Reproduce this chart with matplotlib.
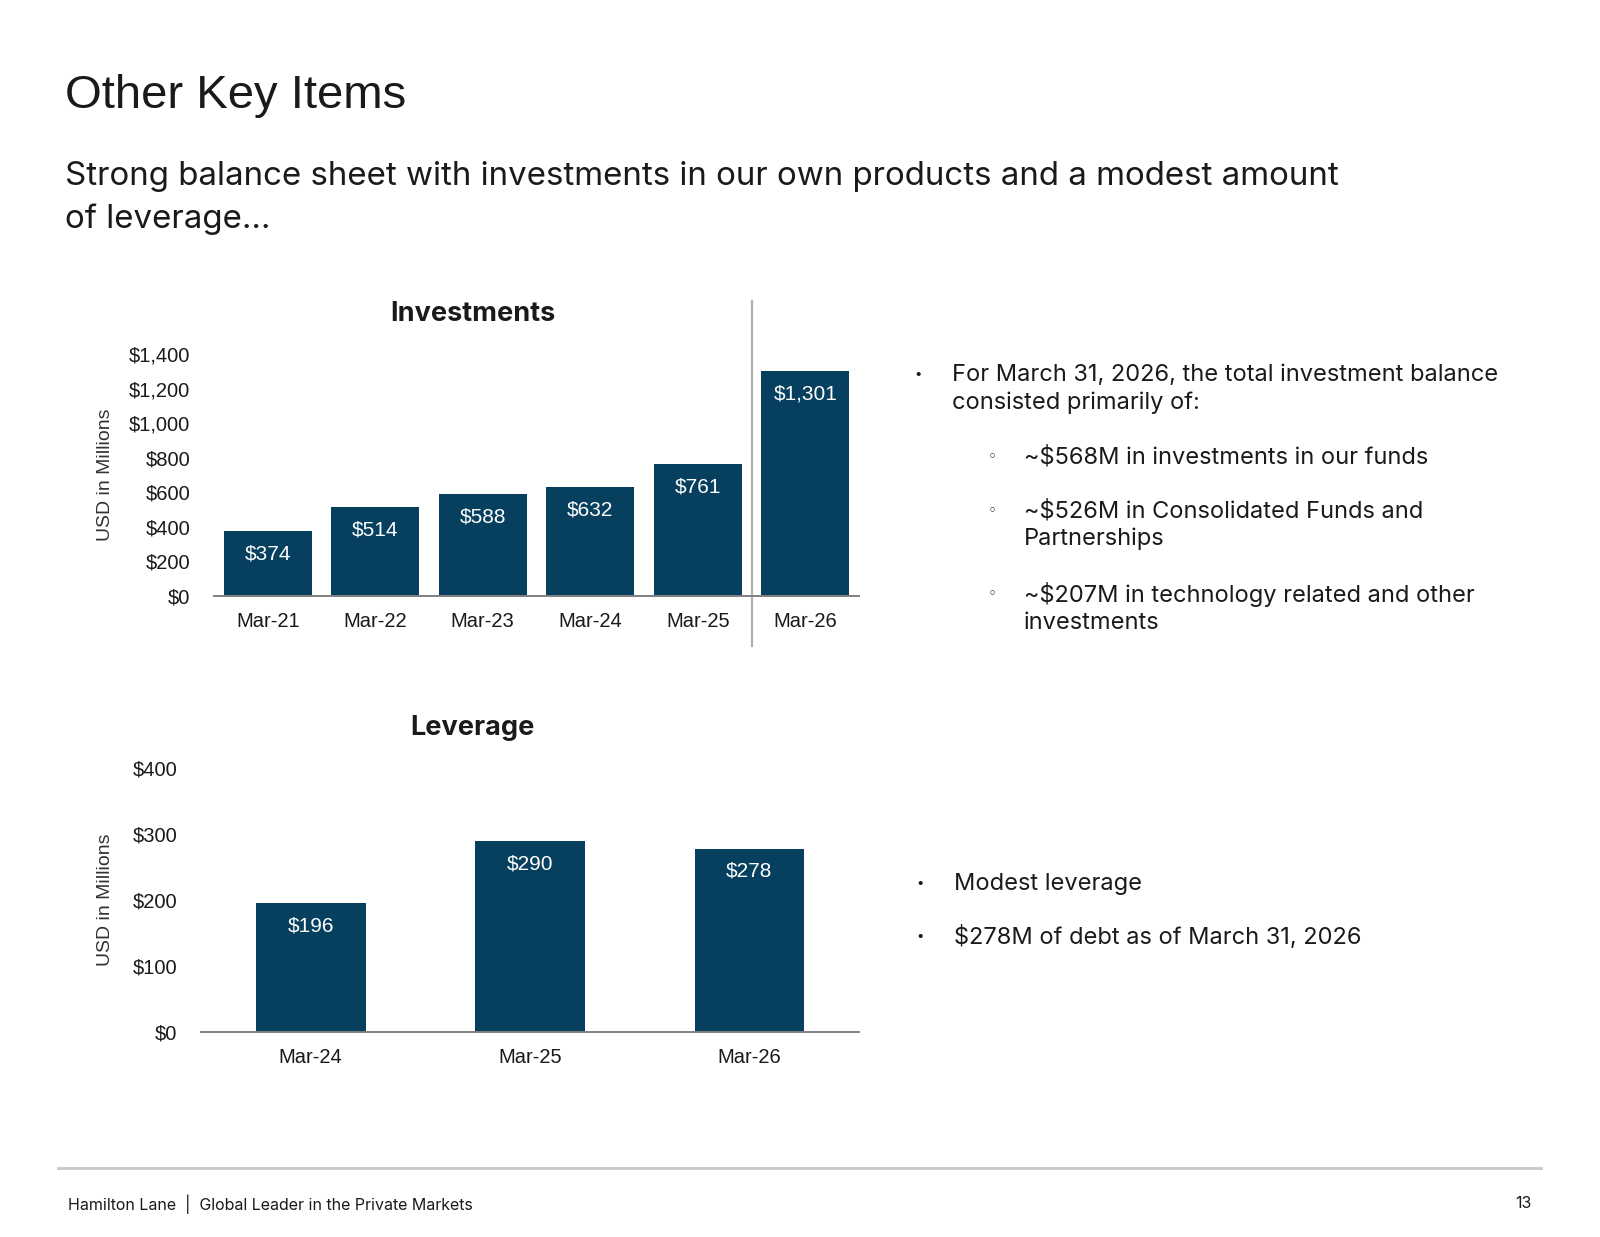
import matplotlib.pyplot as plt

plt.rcParams['font.family'] = ['Liberation Sans', 'DejaVu Sans']
BODY = ['Inter', 'DejaVu Sans']

# data
inv_labels = ["Mar-21", "Mar-22", "Mar-23", "Mar-24", "Mar-25", "Mar-26"]
inv_values = [374, 514, 588, 632, 761, 1301]
lev_labels = ["Mar-24", "Mar-25", "Mar-26"]
lev_values = [196, 290, 278]

inv_ticks = [0, 200, 400, 600, 800, 1000, 1200, 1400]
lev_ticks = [0, 100, 200, 300, 400]

inv_notes = ["~$568M in investments in our funds",
             "~$526M in Consolidated Funds and\nPartnerships",
             "~$207M in technology related and other\ninvestments"]
lev_notes = ["Modest leverage", "$278M of debt as of March 31, 2026"]

BAR = "#07405f"
TXT = "#1a1a1a"
W, H = 1600, 1237

fig = plt.figure(figsize=(16, 12.37), dpi=100)


def fx(px):
    return px / W


def fy(py):
    return 1 - py / H


def money(v):
    return f"${v:,.0f}"


def style_axis(ax, ticks, top):
    ax.set_ylim(0, top)
    ax.set_yticks(ticks)
    ax.set_yticklabels([money(t) for t in ticks])
    for s in ["top", "right", "left"]:
        ax.spines[s].set_visible(False)
    ax.spines["bottom"].set_color("#808080")
    ax.spines["bottom"].set_linewidth(1.4)
    ax.tick_params(axis="both", length=0, labelsize=14.5, labelcolor=TXT)
    ax.tick_params(axis="y", pad=17)
    ax.tick_params(axis="x", pad=11.5)
    ax.set_facecolor("none")


def label_bars(ax, bars, values):
    for b, v in zip(bars, values):
        ax.annotate(money(v), (b.get_x() + b.get_width() / 2, v),
                    xytext=(0, -16.5), textcoords="offset points",
                    ha="center", va="center", color="white", fontsize=15)


# header
fig.text(fx(65), fy(96), "Other Key Items", fontsize=34, color=TXT, va="center")
fig.text(fx(65), fy(176), "Strong balance sheet with investments in our own products and a modest amount",
         fontsize=23.8, color=TXT, va="center", family=BODY)
fig.text(fx(65), fy(219), "of leverage…", fontsize=23.8, color=TXT, va="center", family=BODY)

# investments chart
ax1 = fig.add_axes([fx(214), fy(596), fx(859) - fx(214), (596 - 354) / H])
x1 = range(len(inv_values))
bars1 = ax1.bar(x1, inv_values, width=0.82, color=BAR)
ax1.set_xlim(-0.5, len(inv_values) - 0.5)
ax1.set_xticks(list(x1))
ax1.set_xticklabels(inv_labels)
style_axis(ax1, inv_ticks, 1400)
label_bars(ax1, bars1, inv_values)
ax1.axvline(len(inv_values) - 1.5, ymin=-0.207, ymax=1.219, color="#b0b0b0",
            lw=1.6, clip_on=False)
fig.text(fx(473), fy(314), "Investments", fontsize=19.5, fontweight="bold", color=TXT,
         ha="center", va="center", family=BODY)
fig.text(fx(105), fy(475), "USD in Millions", fontsize=14, color="#333333",
         rotation=90, ha="center", va="center")

# leverage chart
ax2 = fig.add_axes([fx(201), fy(1032), fx(859) - fx(201), (1032 - 768) / H])
x2 = range(len(lev_values))
bars2 = ax2.bar(x2, lev_values, width=0.5, color=BAR)
ax2.set_xlim(-0.5, len(lev_values) - 0.5)
ax2.set_xticks(list(x2))
ax2.set_xticklabels(lev_labels)
style_axis(ax2, lev_ticks, 400)
label_bars(ax2, bars2, lev_values)
fig.text(fx(472), fy(728), "Leverage", fontsize=19.5, fontweight="bold", color=TXT,
         ha="center", va="center", family=BODY)
fig.text(fx(105), fy(900), "USD in Millions", fontsize=14, color="#333333",
         rotation=90, ha="center", va="center")

# right-hand notes
fs = 17
ls = 1.3
fig.text(fx(918), fy(375), "•", fontsize=11, color=TXT, va="center", ha="center")
fig.text(fx(952), fy(389), "For March 31, 2026, the total investment balance\nconsisted primarily of:",
         fontsize=fs, color=TXT, va="center", linespacing=ls, family=BODY)
for note, y, yb in zip(inv_notes, [457, 525, 608], [457, 511, 594]):
    fig.text(fx(992), fy(yb), "◦", fontsize=11, color=TXT,
             va="center", ha="center", family="DejaVu Sans")
    fig.text(fx(1024), fy(y), note, fontsize=fs, color=TXT, va="center",
             linespacing=ls, family=BODY)

for note, y in zip(lev_notes, [884, 937]):
    fig.text(fx(920), fy(y), "•", fontsize=11, color=TXT, va="center", ha="center")
    fig.text(fx(954), fy(y), note, fontsize=fs, color=TXT, va="center", family=BODY)

# footer
fig.add_artist(plt.Line2D([fx(58), fx(1541)], [fy(1168), fy(1168)], color="#c8c8c8", lw=2))
fig.text(fx(68), fy(1204), "Hamilton Lane  |  Global Leader in the Private Markets",
         fontsize=11.5, color=TXT, va="center", family=BODY)
fig.text(fx(1532), fy(1204), "13", fontsize=11.5, color=TXT, va="center", ha="right",
         family=BODY)

fig.savefig("out.png", dpi=100)
